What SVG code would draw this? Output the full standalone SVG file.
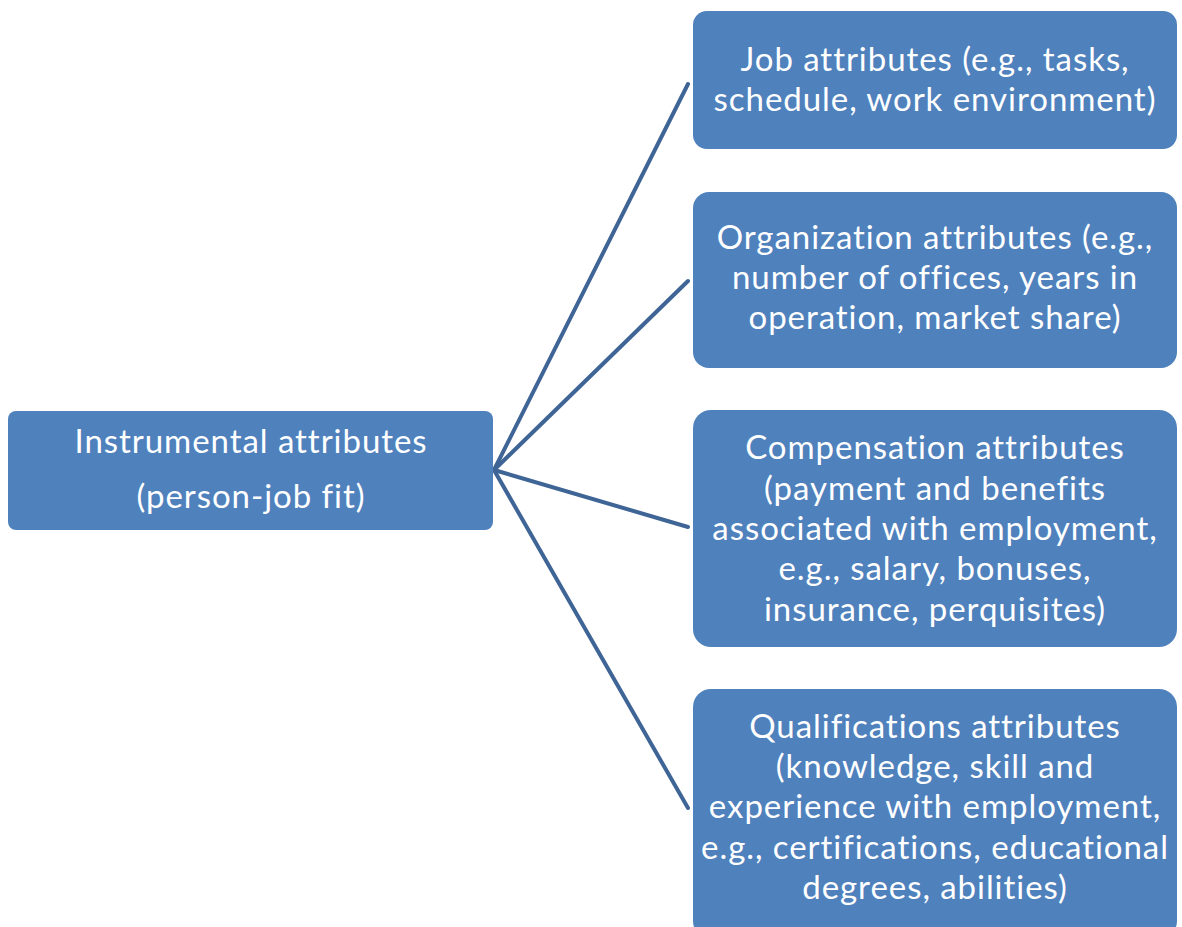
<svg xmlns="http://www.w3.org/2000/svg" width="1182" height="927" viewBox="0 0 1182 927">
  <style>
    .box { fill: #4F81BD; }
    .label { font-family: Lato, "Liberation Sans", sans-serif; font-size: 33px; letter-spacing: 0.95px; font-variant-ligatures: none; fill: #FFFFFF; text-anchor: middle; }
    .link { stroke: #3F6596; stroke-width: 4; fill: none; stroke-linecap: round; }
  </style>
  <rect width="1182" height="927" fill="#FFFFFF"/>

  <!-- connectors from the root node to each attribute box -->
  <g id="connectors">
    <line class="link" x1="494" y1="470" x2="688" y2="84"/>
    <line class="link" x1="494" y1="470" x2="688" y2="281"/>
    <line class="link" x1="494" y1="470" x2="688" y2="527"/>
    <line class="link" x1="494" y1="470" x2="688" y2="808"/>
  </g>

  <g id="node-instrumental">
    <rect class="box" x="8" y="411" width="485" height="119" rx="8"/>
    <text class="label" x="251" y="453">Instrumental attributes</text>
    <text class="label" x="251" y="508">(person-job fit)</text>
  </g>

  <g id="node-job">
    <rect class="box" x="693" y="11" width="484" height="138" rx="14"/>
    <text class="label" x="935" y="71">Job attributes (e.g., tasks,</text>
    <text class="label" x="935" y="111">schedule, work environment)</text>
  </g>

  <g id="node-organization">
    <rect class="box" x="693" y="192" width="484" height="176" rx="16"/>
    <text class="label" x="935" y="249">Organization attributes (e.g.,</text>
    <text class="label" x="935" y="289">number of offices, years in</text>
    <text class="label" x="935" y="329">operation, market share)</text>
  </g>

  <g id="node-compensation">
    <rect class="box" x="693" y="410" width="484" height="237" rx="18"/>
    <text class="label" x="935" y="459">Compensation attributes</text>
    <text class="label" x="935" y="500">(payment and benefits</text>
    <text class="label" x="935" y="540">associated with employment,</text>
    <text class="label" x="935" y="580">e.g., salary, bonuses,</text>
    <text class="label" x="935" y="621">insurance, perquisites)</text>
  </g>

  <g id="node-qualifications">
    <rect class="box" x="693" y="689" width="484" height="250" rx="18"/>
    <text class="label" x="935" y="738">Qualifications attributes</text>
    <text class="label" x="935" y="778">(knowledge, skill and</text>
    <text class="label" x="935" y="818">experience with employment,</text>
    <text class="label" x="935" y="859">e.g., certifications, educational</text>
    <text class="label" x="935" y="899">degrees, abilities)</text>
  </g>
</svg>
